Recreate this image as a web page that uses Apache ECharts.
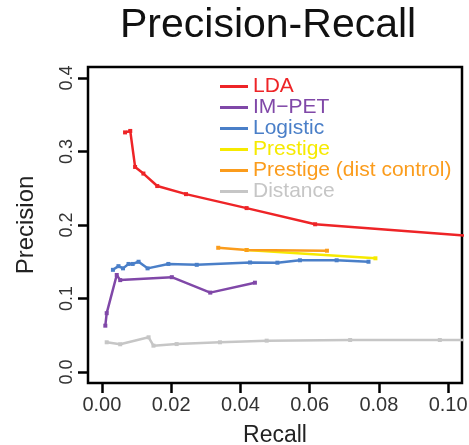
<!DOCTYPE html>
<html><head><meta charset="utf-8">
<script src="https://cdn.jsdelivr.net/npm/echarts@6/dist/echarts.min.js"></script>
<style>html,body{margin:0;padding:0;background:#fff}#c{width:469px;height:445px}</style>
</head><body><div id="c"></div>
<script>
const seriesNames = ['LDA', 'IM\u2212PET', 'Logistic', 'Prestige', 'Prestige (dist control)', 'Distance'];
const seriesColors = ['#ee2427', '#8048a8', '#4a7fc8', '#f6ea00', '#fb9c1c', '#c6c6c6'];
const xTickMin = 0, xTickMax = 0.10, xTickStep = 0.02;
const yTickMin = 0, yTickMax = 0.4, yTickStep = 0.1;
// [recall, precision]
const ldaData = [[0.0067,0.326],[0.0082,0.328],[0.0096,0.279],[0.012,0.270],[0.016,0.253],[0.0243,0.242],[0.0418,0.223],[0.0616,0.201],[0.105,0.1855]];
const impetData = [[0.0010,0.063],[0.0014,0.080],[0.0043,0.132],[0.0053,0.125],[0.0202,0.129],[0.0313,0.108],[0.0442,0.1215]];
const logisticData = [[0.0032,0.139],[0.0048,0.144],[0.0061,0.141],[0.0077,0.147],[0.0089,0.147],[0.0106,0.150],[0.0132,0.141],[0.0192,0.147],[0.0274,0.1458],[0.0428,0.149],[0.0507,0.1487],[0.0572,0.152],[0.0678,0.152],[0.0770,0.150]];
const prestigeData = [[0.0418,0.166],[0.0790,0.1547]];
const prestigeDistData = [[0.0336,0.169],[0.0418,0.166],[0.0650,0.165]];
const distanceData = [[0.0014,0.0404],[0.0053,0.0377],[0.0135,0.0472],[0.0149,0.0358],[0.0216,0.0380],[0.0341,0.0404],[0.0476,0.0426],[0.0717,0.0435],[0.0976,0.0435],[0.105,0.0435]];
const allData = [ldaData, impetData, logisticData, prestigeData, prestigeDistData, distanceData];

const FONT = '"Liberation Sans", Arial, sans-serif';
const W = 469, H = 445;
// plot box (data range a bit wider than the tick range, R style)
const box = {left: 88, right: 7, top: 67, bottom: 62};
const xMin = -0.004, xMax = 0.104, yMin = -0.015, yMax = 0.415;
const bw = W - box.left - box.right, bh = H - box.top - box.bottom;
const px = v => box.left + (v - xMin) / (xMax - xMin) * bw;
const py = v => box.top + (yMax - v) / (yMax - yMin) * bh;
// tick grid spans exactly the tick range, axes offset out to the box edge
const tg = {left: px(xTickMin), right: W - px(xTickMax), top: py(yTickMax), bottom: H - py(yTickMin)};
const xOff = (H - box.bottom) - py(yTickMin);
const yOff = px(xTickMin) - box.left;

const chart = echarts.init(document.getElementById('c'), null, {renderer: 'canvas'});
chart.setOption({
  animation: false,
  backgroundColor: '#fff',
  title: {
    text: 'Precision-Recall', left: 115, top: 0,
    textStyle: {fontFamily: FONT, fontSize: 41, fontWeight: 'normal', color: '#111'}
  },
  legend: {
    orient: 'vertical', left: 215, top: 71,
    itemWidth: 28, itemHeight: 3, itemGap: 0, icon: 'rect',
    data: seriesNames.map((n, i) => ({name: n, itemStyle: {color: seriesColors[i]}, textStyle: {color: seriesColors[i]}})),
    textStyle: {fontFamily: FONT, fontSize: 21, lineHeight: 19.6}
  },
  grid: [
    Object.assign({show: true, borderColor: '#000', borderWidth: 2.5, containLabel: false, outerBoundsMode: 'none'}, box),
    Object.assign({show: false, containLabel: false, outerBoundsMode: 'none'}, tg)
  ],
  xAxis: [{
    gridIndex: 0, type: 'value', min: xMin, max: xMax,
    name: 'Recall', nameLocation: 'middle', nameGap: 41,
    nameTextStyle: {fontFamily: FONT, fontSize: 23, color: '#222'},
    axisLine: {show: false}, axisTick: {show: false}, axisLabel: {show: false}, splitLine: {show: false}
  }, {
    gridIndex: 1, type: 'value', min: xTickMin, max: xTickMax, interval: xTickStep,
    position: 'bottom', offset: xOff,
    axisLine: {show: false, onZero: false},
    splitLine: {show: false},
    axisTick: {show: true, length: 10, lineStyle: {color: '#000', width: 2.5}},
    axisLabel: {margin: 12, fontFamily: FONT, fontSize: 20, color: '#333', formatter: v => v.toFixed(2)}
  }],
  yAxis: [{
    gridIndex: 0, type: 'value', min: yMin, max: yMax,
    name: 'Precision', nameLocation: 'middle', nameGap: 50,
    nameTextStyle: {fontFamily: FONT, fontSize: 24, color: '#222'},
    axisLine: {show: false}, axisTick: {show: false}, axisLabel: {show: false}, splitLine: {show: false}
  }, {
    gridIndex: 1, type: 'value', min: yTickMin, max: yTickMax, interval: yTickStep,
    position: 'left', offset: yOff,
    axisLine: {show: false, onZero: false},
    splitLine: {show: false},
    axisTick: {show: true, length: 10, lineStyle: {color: '#000', width: 2.5}},
    axisLabel: {margin: 12, rotate: 90, fontFamily: FONT, fontSize: 18, color: '#333', formatter: v => v.toFixed(1)}
  }],
  series: seriesNames.map((n, i) => ({
    name: n, type: 'line', data: allData[i], xAxisIndex: 0, yAxisIndex: 0,
    symbol: 'rect', symbolSize: 4, showSymbol: true,
    clip: true,
    lineStyle: {color: seriesColors[i], width: 2.5},
    itemStyle: {color: seriesColors[i]}
  }))
});
</script></body></html>
